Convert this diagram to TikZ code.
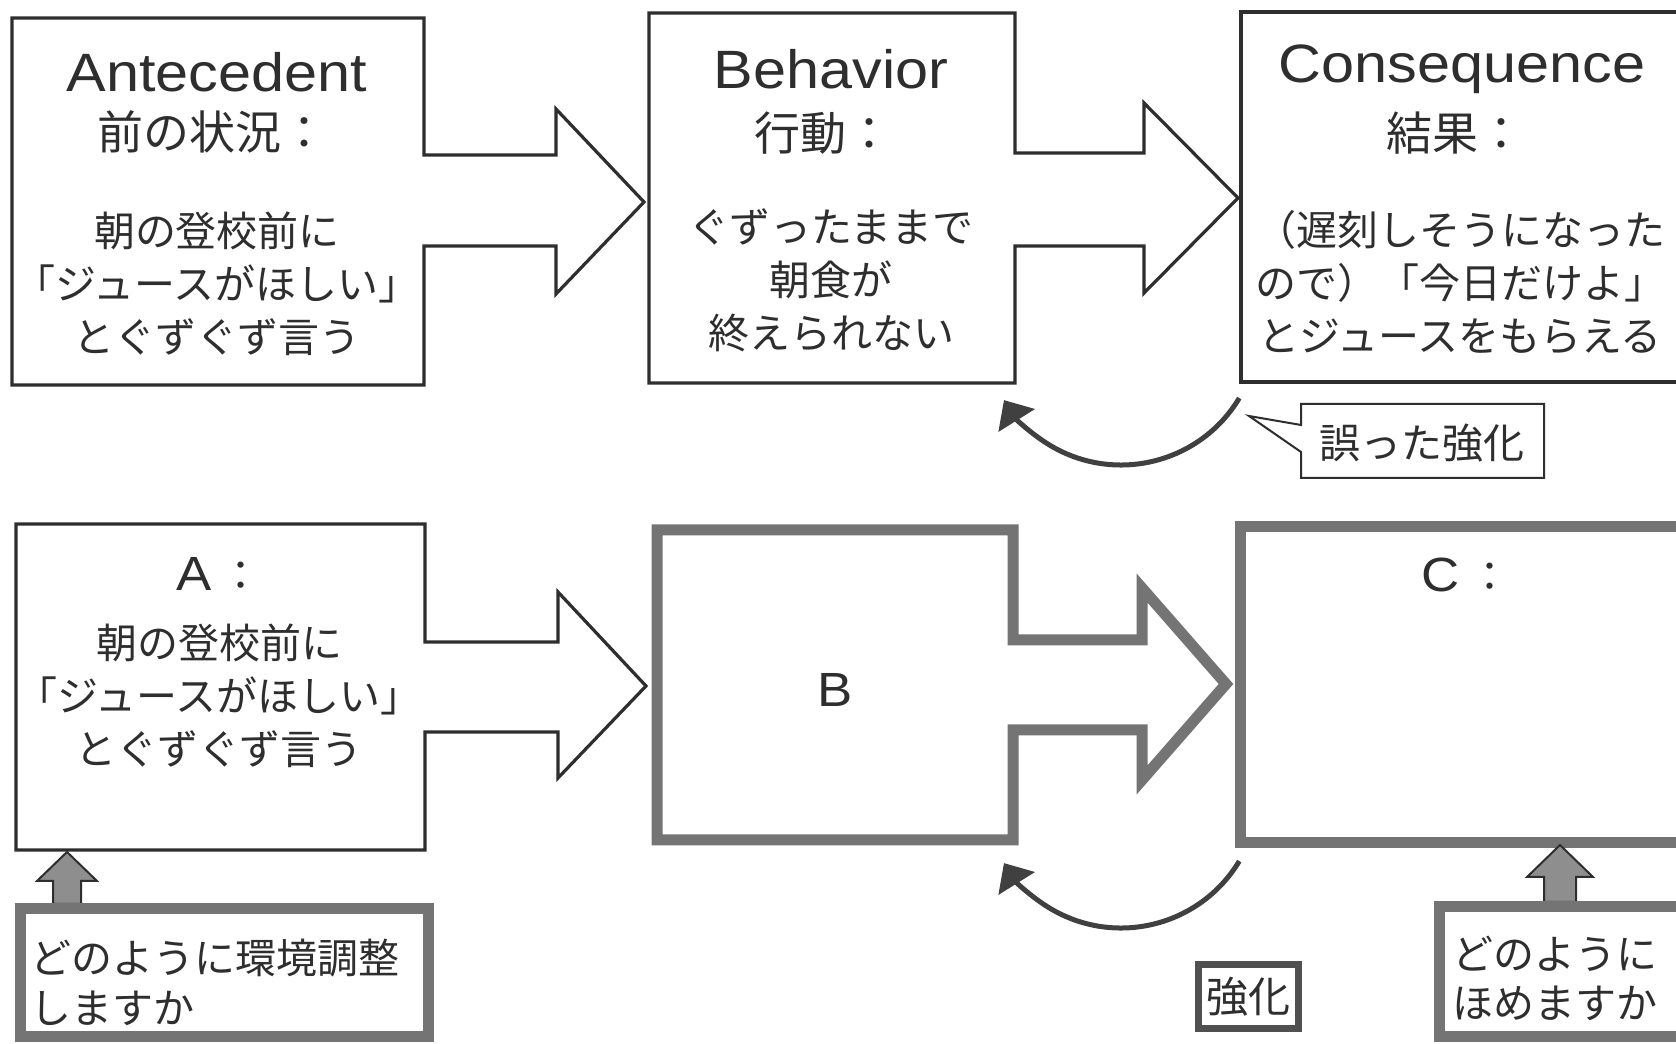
\documentclass[tikz,border=0pt]{standalone}
\usepackage{fontspec}
\setmainfont{Liberation Sans}
\newfontfamily\jp{Noto Sans CJK JP}
\usetikzlibrary{arrows.meta}
\definecolor{ink}{HTML}{2E2E2E}
\definecolor{gborder}{HTML}{747474}
\definecolor{gfill}{HTML}{8E8E8E}
\definecolor{curvec}{HTML}{404040}
\definecolor{kyokac}{HTML}{505050}
\tikzset{
 thinbox/.style={draw=ink, line width=3.2pt, line join=miter, fill=white},
 thickbox/.style={draw=gborder, line width=11pt, line join=miter, fill=white},
 lat/.style={font=\fontsize{54}{54}\selectfont, inner sep=0pt, text=ink},
 jph/.style={font=\jp\fontsize{46}{46}\selectfont, inner sep=0pt, text=ink},
 jpb/.style={font=\jp\fontsize{41}{53}\selectfont, inner sep=0pt, align=center, text=ink},
 jpl/.style={font=\jp\fontsize{41}{41}\selectfont, inner sep=0pt, anchor=west, text=ink},
 loopar/.style={draw=curvec, line width=5pt, -{Triangle[length=24pt,width=42pt]}},
 uparrow/.style={draw=ink, line width=2pt, fill=gfill, line join=miter},
}
\begin{document}
\begin{tikzpicture}[x=1pt,y=1pt]
\useasboundingbox (0,0) rectangle (1676,1044);
\clip (0,0) rectangle (1676,1044);
\fill[white] (0,0) rectangle (1676,1044);

% ---------- top row ----------
\draw[thinbox] (1241,1032) rectangle (1700,662);
\draw[thinbox] (649,1031) -- (1015,1031) -- (1015,891) -- (1144,891) -- (1144,941) -- (1238,846) -- (1144,751) -- (1144,798) -- (1015,798) -- (1015,661) -- (649,661) -- cycle;
\draw[thinbox] (12,1026) -- (424,1026) -- (424,889) -- (556,889) -- (556,935) -- (644,842) -- (556,750) -- (556,798) -- (424,798) -- (424,659) -- (12,659) -- cycle;

\node[lat] (antT) at (217,972) {\scalebox{1.1}[1]{Antecedent}};
\node[jph] (antJ) at (212,912) {前の状況：};
\node[jpb] (antB) at (217,760) {朝の登校前に\\「ジュースがほしい」\\とぐずぐず言う};

\node[lat] (behT) at (831,975) {\scalebox{1.1}[1]{Behavior}};
\node[jph] (behJ) at (823,911) {行動：};
\node[jpb] (behB) at (831,764) {ぐずったままで\\朝食が\\終えられない};

\node[lat] (conT) at (1462,975) {\scalebox{1.1}[1]{Consequence}};
\node[jph] (conJ) at (1455,911) {結果：};
\node[jpb] (conB) at (1460,762) {（遅刻しそうになった\\ので）「今日だけよ」\\とジュースをもらえる};

\coordinate (topc) at (1121,717);
\draw[loopar] (topc) ++(-31:138) arc[start angle=-31, end angle=-148, radius=138];

\draw[draw=ink, line width=2pt, fill=white] (1301,640) -- (1544,640) -- (1544,566) -- (1301,566) -- (1301,592) -- (1249,628) -- (1301,619) -- cycle;
\node[jpl, anchor=center] (ayamatta) at (1422,601) {誤った強化};

% ---------- bottom row ----------
\draw[thickbox] (1240,517) rectangle (1700,201);
\draw[thickbox] (657,514) -- (1013,514) -- (1013,404) -- (1142,404) -- (1142,456) -- (1226,360) -- (1142,264) -- (1142,314) -- (1013,314) -- (1013,204) -- (657,204) -- cycle;
\draw[thinbox] (16,520) -- (425,520) -- (425,402) -- (558,402) -- (558,452) -- (646,358) -- (558,266) -- (558,312) -- (425,312) -- (425,194) -- (16,194) -- cycle;

\node[lat] (aL) at (219,470) {\scalebox{1.1}[1]{\fontsize{48}{48}\selectfont A}\,{\jp\fontsize{41}{41}\selectfont ：}};
\node[jpb] (aB) at (219,348) {朝の登校前に\\「ジュースがほしい」\\とぐずぐず言う};
\node[lat] (bL) at (835,354) {\scalebox{1.1}[1]{\fontsize{48}{48}\selectfont B}};
\node[lat] (cL) at (1466,469) {\scalebox{1.1}[1]{\fontsize{48}{48}\selectfont C}\,{\jp\fontsize{41}{41}\selectfont ：}};

\coordinate (botc) at (1121,254);
\draw[loopar] (botc) ++(-31:138) arc[start angle=-31, end angle=-148, radius=138];

\node[draw=kyokac, line width=7pt, fill=white, minimum width=100pt, minimum height=64pt, inner sep=0pt, font=\jp\fontsize{42}{42}\selectfont, text=ink] (kyoka) at (1248,47) {強化};

\draw[uparrow] (53,140) -- (53,163) -- (37,163) -- (67,192) -- (97,163) -- (81,163) -- (81,140) -- cycle;
\draw[uparrow] (1544,142) -- (1544,167) -- (1527,167) -- (1560,199) -- (1593,167) -- (1576,167) -- (1576,142) -- cycle;

\draw[thickbox] (20,135) rectangle (428,7);
\node[jpl] (envL1) at (30,86) {どのように環境調整};
\node[jpl] (envL2) at (30,36) {しますか};

\draw[thickbox] (1439,137) rectangle (1700,7);
\node[jpl] (homeL1) at (1452,90) {どのように};
\node[jpl] (homeL2) at (1452,41) {ほめますか};
\end{tikzpicture}
\end{document}
